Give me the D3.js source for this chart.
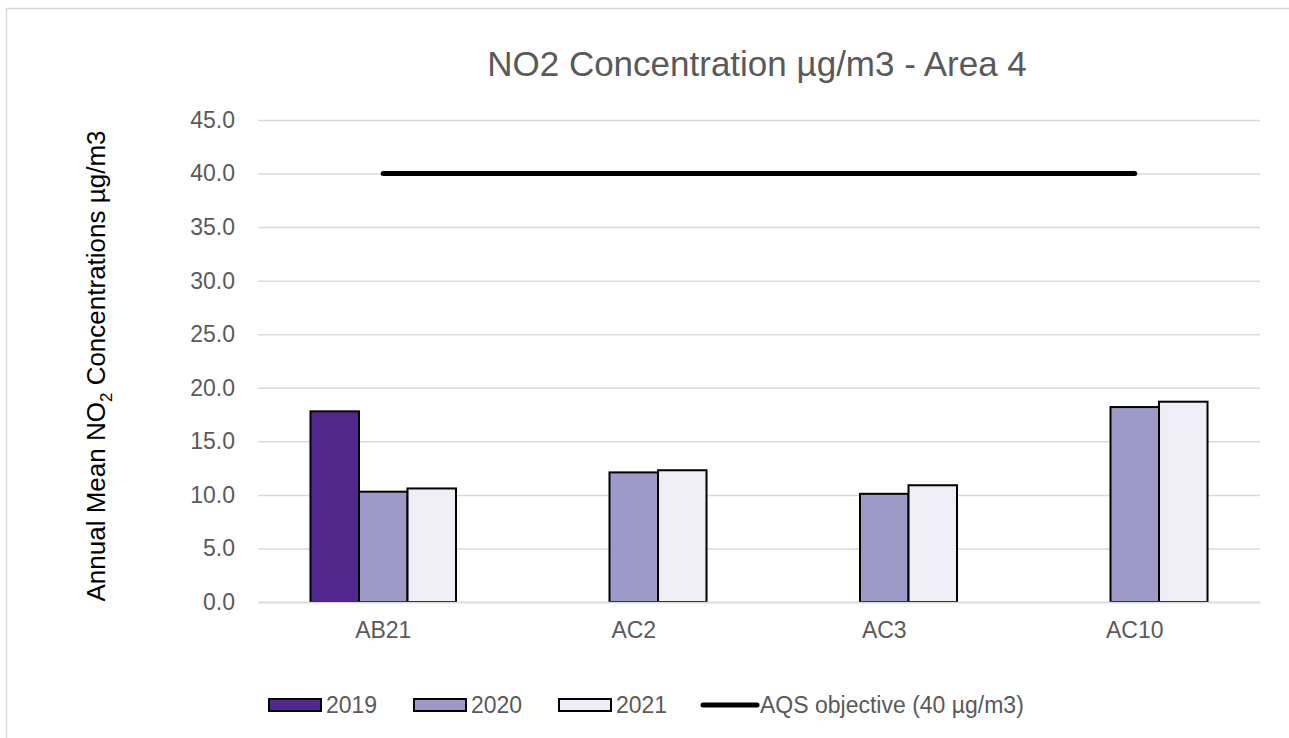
<!DOCTYPE html>
<html lang="en">
<head>
  <meta charset="UTF-8">
  <title>NO2 Concentration - Area 4</title>
  <script src="https://d3js.org/d3.v7.min.js"></script>
  <style>
    body { margin: 0; background: #fff; overflow: hidden; }
    svg { display: block; font-family: "Liberation Sans", Arial, sans-serif; }
    .tick text { fill: #595959; font-size: 23px; }
  </style>
</head>
<body>
  <div id="chart"></div>

  <script>
    // Data
    const sites = ["AB21", "AC2", "AC3", "AC10"];
    const years = ["2019", "2020", "2021"];
    const values2019 = [17.8, null, null, null];
    const values2020 = [10.3, 12.1, 10.1, 18.2];
    const values2021 = [10.6, 12.3, 10.9, 18.7];
    const objective = 40;
    const yTicks = [0, 5, 10, 15, 20, 25, 30, 35, 40, 45];
    const colors = ["#54278f", "#9e9ac8", "#efedf5"];

    const width = 1289;
    const height = 738;
    const plotLeft = 258, plotRight = 1260, plotTop = 120, plotBottom = 602;

    const svg = d3.select("#chart")
      .append("svg")
      .attr("width", width)
      .attr("height", height);

    // outer frame (only left/top edges are visible)
    svg.append("path")
      .attr("d", `M6.5,${height}V8.5H${width}`)
      .attr("fill", "none")
      .attr("stroke", "#d9d9d9")
      .attr("stroke-width", 1.5);

    const y = d3.scaleLinear().domain([0, 45]).range([plotBottom, plotTop]);
    const x0 = d3.scaleBand().domain(sites).range([plotLeft, plotRight]).padding(0);
    const x1 = d3.scaleBand().domain(years).range([0, x0.bandwidth()])
      .paddingInner(0).paddingOuter(1.082);

    // gridlines + y labels
    const yAxis = svg.append("g")
      .attr("transform", `translate(${plotLeft},0)`)
      .call(d3.axisLeft(y).tickValues(yTicks).tickFormat(d3.format(".1f"))
        .tickSize(-(plotRight - plotLeft)).tickPadding(23));
    yAxis.select(".domain").remove();
    yAxis.selectAll(".tick line").attr("stroke", "#d9d9d9").attr("stroke-width", 1.5);

    // bars
    const series = [values2019, values2020, values2021];
    const rows = [];
    sites.forEach((s, i) => {
      years.forEach((yr, j) => {
        if (series[j][i] != null) rows.push({ site: s, year: yr, value: series[j][i], c: colors[j] });
      });
    });

    svg.append("g").selectAll("rect")
      .data(rows)
      .enter()
      .append("rect")
      .attr("x", d => x0(d.site) + x1(d.year))
      .attr("y", d => y(d.value))
      .attr("width", x1.bandwidth())
      .attr("height", d => y(0) - y(d.value))
      .attr("fill", d => d.c)
      .attr("stroke", "#000")
      .attr("stroke-width", 2);

    // x labels
    const xAxis = svg.append("g")
      .attr("transform", `translate(0,${plotBottom})`)
      .call(d3.axisBottom(x0).tickSize(0).tickPadding(20));
    xAxis.select(".domain").attr("stroke", "#d9d9d9").attr("stroke-width", 1.5);

    // AQS objective line
    const line = d3.line()
      .x(d => x0(d) + x0.bandwidth() / 2)
      .y(() => y(objective));
    svg.append("path")
      .datum(sites)
      .attr("d", line)
      .attr("fill", "none")
      .attr("stroke", "#000")
      .attr("stroke-width", 5)
      .attr("stroke-linecap", "round");

    // title
    svg.append("text")
      .attr("x", 757)
      .attr("y", 76)
      .attr("text-anchor", "middle")
      .attr("fill", "#595959")
      .style("font-size", "35px")
      .text("NO2 Concentration µg/m3 - Area 4");

    // y axis title
    const yt = svg.append("text")
      .attr("transform", "translate(105,366) rotate(-90)")
      .attr("text-anchor", "middle")
      .attr("fill", "#000")
      .style("font-size", "26px");
    yt.append("tspan").text("Annual Mean NO");
    yt.append("tspan").attr("dy", 7).style("font-size", "17px").text("2");
    yt.append("tspan").attr("dy", -7).text(" Concentrations µg/m3");

    // legend
    const legendY = 705;
    const legendItems = [
      { label: "2019", x: 269, type: "rect", c: colors[0] },
      { label: "2020", x: 414, type: "rect", c: colors[1] },
      { label: "2021", x: 559, type: "rect", c: colors[2] },
      { label: "AQS objective (40 µg/m3)", x: 703, type: "line" }
    ];
    const lg = svg.append("g").selectAll("g")
      .data(legendItems)
      .enter()
      .append("g")
      .attr("transform", d => `translate(${d.x},${legendY})`);

    lg.filter(d => d.type === "rect").append("rect")
      .attr("x", 0).attr("y", -6)
      .attr("width", 52).attr("height", 12)
      .attr("fill", d => d.c)
      .attr("stroke", "#000")
      .attr("stroke-width", 2);

    lg.filter(d => d.type === "line").append("line")
      .attr("x1", 0).attr("x2", 54)
      .attr("stroke", "#000")
      .attr("stroke-width", 5)
      .attr("stroke-linecap", "round");

    lg.append("text")
      .attr("x", 57)
      .attr("y", 8)
      .attr("fill", "#595959")
      .style("font-size", "23px")
      .text(d => d.label);
  </script>
</body>
</html>
